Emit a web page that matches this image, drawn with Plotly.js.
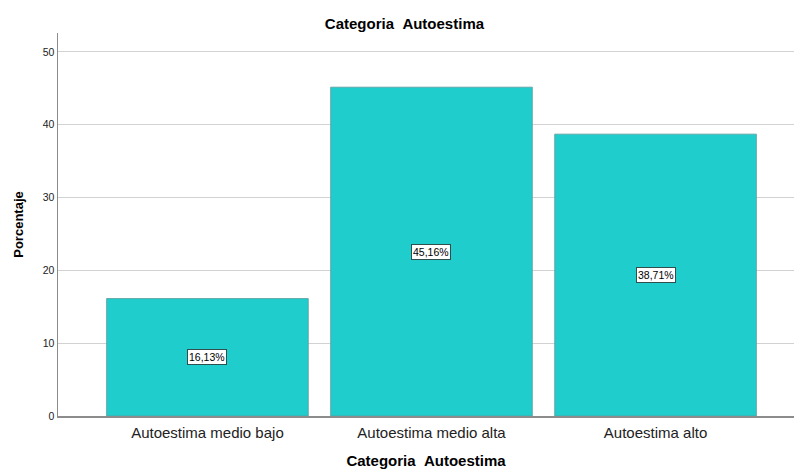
<!DOCTYPE html>
<html>
<head>
<meta charset="utf-8">
<script src="https://cdn.plot.ly/plotly-3.0.1.min.js"></script>
<style>html,body{margin:0;padding:0;background:#fff;}#chart{width:794px;height:469px;}</style>
</head>
<body>
<div id="chart"></div>
<script>
const categories = ["Autoestima medio bajo", "Autoestima medio alta", "Autoestima alto"];
const percentages = [16.13, 45.16, 38.71];
const valueLabels = ["16,13%", "45,16%", "38,71%"];
const yTicks = [0, 10, 20, 30, 40, 50];
const chartTitle = "Categoria\u00a0\u00a0Autoestima";
const xTitle = "Categoria\u00a0\u00a0Autoestima";
const yTitle = "Porcentaje";

const font = "Liberation Sans, Arial, sans-serif";

const trace = {
  type: "bar",
  x: categories,
  y: percentages,
  marker: { color: "#1fcdcd", line: { color: "#5a9a9a", width: 0.8 } },
  hoverinfo: "none"
};

const annotations = categories.map((c, i) => ({
  x: c, y: percentages[i] / 2, xref: "x", yref: "y",
  text: valueLabels[i], showarrow: false,
  bgcolor: "#ffffff", bordercolor: "#2f4f4f", borderwidth: 1, borderpad: 1,
  font: { family: font, size: 10.5, color: "#000" }
}));

const layout = {
  width: 794, height: 469,
  margin: { l: 58, r: 0, t: 33, b: 53 },
  paper_bgcolor: "#fff", plot_bgcolor: "#fff",
  bargap: 0.1,
  showlegend: false,
  title: { text: "<b>" + chartTitle + "</b>", x: 0.5094, xanchor: "center", y: 0.949, yanchor: "middle",
           font: { family: font, size: 15, color: "#000" } },
  xaxis: {
    type: "category", range: [-0.667, 2.618],
    showgrid: false, showline: true, linecolor: "#8c8c8c", linewidth: 1.5,
    ticks: "", ticklabelstandoff: 2, tickfont: { family: font, size: 15, color: "#222" },
    title: { text: "<b>" + xTitle + "</b>", standoff: 19, font: { family: font, size: 15, color: "#000" } },
    zeroline: false
  },
  yaxis: {
    range: [0, 52.6], tickvals: yTicks, ticktext: yTicks.map(String),
    showgrid: true, gridcolor: "#d2d2d2", gridwidth: 1,
    showline: true, linecolor: "#8c8c8c", linewidth: 1.5,
    ticks: "", tickfont: { family: font, size: 10.5, color: "#222" },
    title: { text: "<b>" + yTitle + "</b>", standoff: 16, font: { family: font, size: 13, color: "#000" } },
    zeroline: false
  },
  annotations: annotations
};

Plotly.newPlot("chart", [trace], layout, { staticPlot: true, displayModeBar: false });
</script>
</body>
</html>
